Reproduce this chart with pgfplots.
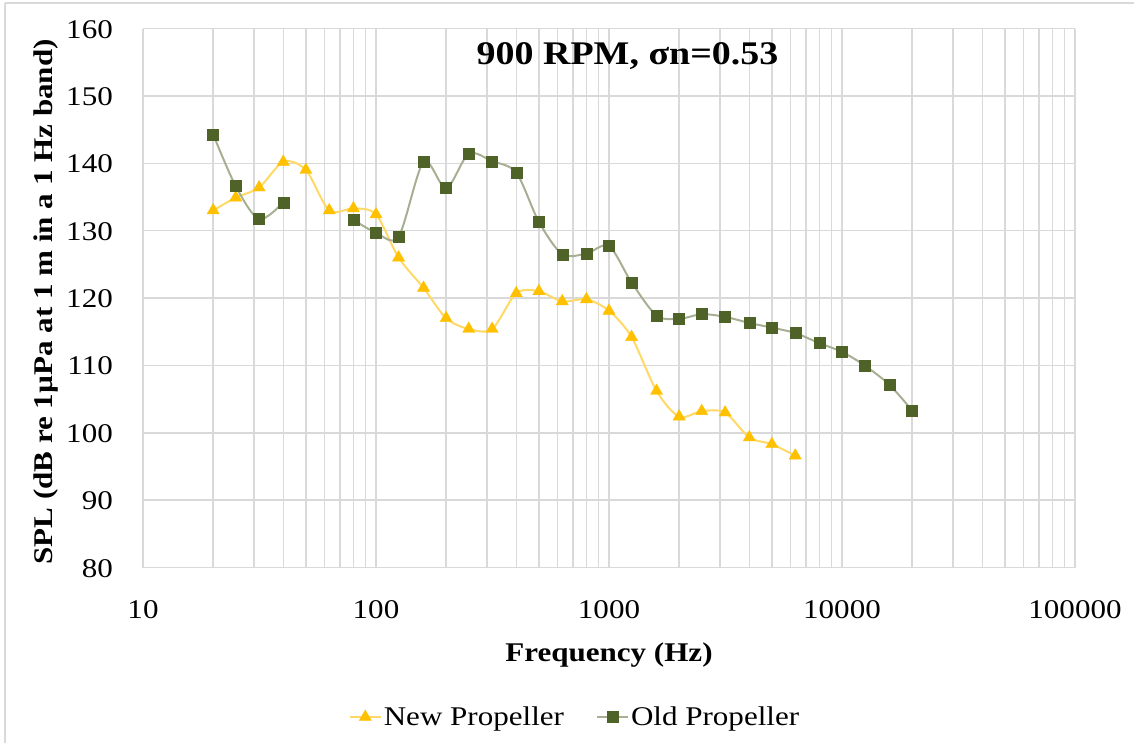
\documentclass[border=0pt]{standalone}
\usepackage{pgfplots}
\pgfplotsset{compat=1.18}
\usepackage{fontspec}
\setmainfont{Liberation Serif}[FakeStretch=1.15]
\definecolor{newc}{HTML}{FFC000}
\definecolor{newl}{HTML}{FFD966}
\definecolor{oldc}{HTML}{4F6228}
\definecolor{oldl}{HTML}{A7AF92}
\definecolor{gridc}{HTML}{D9D9D9}
\begin{document}
\begin{tikzpicture}[x=1pt,y=1pt]
\path[use as bounding box] (0,0) rectangle (1134,742);
\draw[gridc, line width=1.5pt] (5,739) -- (1140,739);
\draw[gridc, line width=1.5pt] (5,739) -- (5,-5);
\begin{axis}[at={(143pt,174.5pt)}, anchor=south west, scale only axis,
  width=932pt, height=539pt,
  xmode=log, log basis x=10, xmin=10, xmax=100000, ymin=80, ymax=160,
  xtick={10,100,1000,10000,100000},
  xticklabels={10,100,1000,10000,100000},
  minor xtick={20,30,40,50,60,70,80,90,200,300,400,500,600,700,800,900,2000,3000,4000,5000,6000,7000,8000,9000,20000,30000,40000,50000,60000,70000,80000,90000},
  ytick={80,90,...,160},
  grid=both,
  major grid style={gridc, line width=1.5pt},
  minor grid style={gridc, line width=1.5pt},
  axis line style={draw=none},
  major tick length=0pt, minor tick length=0pt,
  tick label style={font=\fontsize{27}{27}\selectfont, inner sep=0pt},
  /pgf/number format/assume math mode=true,
  xticklabel style={anchor=base, yshift=-50.8pt},
  yticklabel style={anchor=base east, xshift=-30pt, yshift=-9.5pt},
  unbounded coords=jump,
  legend columns=2,
  legend style={draw=none, fill=none, at={(0.4635,-0.2774)}, anchor=center,
    font=\fontsize{27}{27}\selectfont,
    /tikz/every even column/.append style={column sep=30pt}},
  legend image code/.code={\draw[mark repeat=2,mark phase=2,#1] plot coordinates {(0pt,0pt) (15.5pt,0pt) (31pt,0pt)};},
]
\addplot[color=newl, line width=2pt, smooth, tension=0.5, mark=triangle*, mark size=7pt,
  mark options={fill=newc, draw=newc, line width=0.4pt}] coordinates {
(20,133.0) (25,134.9) (31.5,136.4) (40,140.2) (50,139.0) (63,133.0) (80,133.3)
(100,132.4) (125,126.0) (160,121.5) (200,117.0) (250,115.4) (315,115.4)
(400,120.7) (500,121.0) (630,119.5) (800,119.8) (1000,118.1) (1250,114.2)
(1600,106.2) (2000,102.4) (2500,103.2) (3150,103.0) (4000,99.3) (5000,98.3)
(6300,96.6)
};
\addlegendentry{New Propeller}
\addplot[color=oldl, line width=2pt, smooth, tension=0.5, mark=square*, mark size=5.5pt,
  mark options={fill=oldc, draw=oldc, line width=0.4pt}] coordinates {
(20,144.3) (25,136.6) (31.5,131.7) (40,134.2) (50,nan) (63,nan) (80,131.6)
(100,129.7) (125,129.1) (160,140.2) (200,136.3) (250,141.4) (315,140.3)
(400,138.6) (500,131.3) (630,126.5) (800,126.6) (1000,127.7) (1250,122.3)
(1600,117.4) (2000,116.9) (2500,117.6) (3150,117.2) (4000,116.3) (5000,115.6)
(6300,114.8) (8000,113.3) (10000,112.0) (12500,110.0) (16000,107.1) (20000,103.3)
};
\addlegendentry{Old Propeller}
\end{axis}
\node[font=\bfseries\fontsize{33}{33}\selectfont, anchor=base] at (627.5,677) {900 RPM, σn=0.53};
\node[font=\bfseries\fontsize{27}{27}\selectfont, anchor=base] at (609,80.3) {Frequency (Hz)};
\node[font=\bfseries\fontsize{27}{27}\selectfont, anchor=base, rotate=90] at (52,440) {SPL (dB re 1µPa at 1 m in a 1 Hz band)};
\end{tikzpicture}
\end{document}
